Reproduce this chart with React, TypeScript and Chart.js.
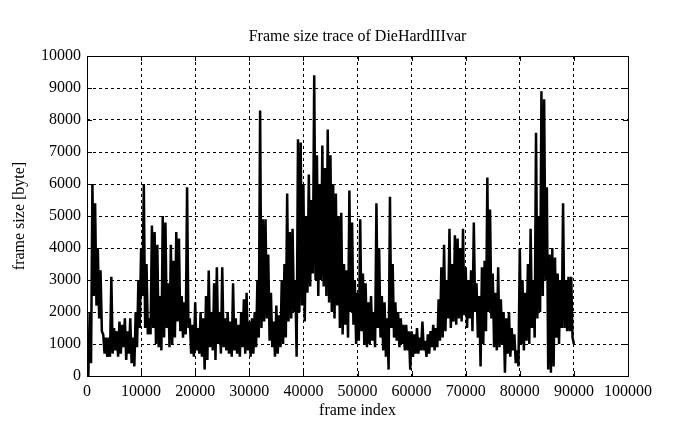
import React, { useEffect, useRef } from "react";
import { Chart, registerables } from "chart.js";

Chart.register(...registerables);

// Frame sizes in bytes, one reading every FRAME_STEP frames.
const FRAME_STEP = 250;

const seg00to10k = [
  1300, 0, 2000, 400, 6000, 2500, 5400, 2200, 4000, 1800, 3300, 1400,
  1300, 700, 1200, 600, 1200, 600, 3100, 700, 1500, 800, 1400, 600,
  1700, 700, 1600, 900, 1800, 500, 1400, 700, 1800, 400, 1200, 300,
  2000, 900, 3000, 1500,
];
const seg10to20k = [
  4000, 2500, 6000, 1500, 3500, 1300, 1800, 1300, 4700, 1500, 4500, 1000,
  4100, 900, 2500, 800, 5000, 1200, 4800, 1500, 2900, 900, 4100, 1000,
  3600, 1200, 4500, 1700, 4300, 1400, 2500, 1200, 2300, 1300, 5900, 1500,
  1800, 700, 1600, 600,
];
const seg20to30k = [
  2300, 800, 1500, 700, 2000, 600, 1800, 200, 2500, 500, 3300, 900,
  2000, 800, 2900, 500, 3400, 1000, 2000, 700, 3400, 900, 1800, 800,
  2000, 700, 1700, 600, 2900, 800, 1800, 700, 1600, 600, 2000, 900,
  2400, 700, 2600, 800,
];
const seg30to40k = [
  1700, 600, 1800, 700, 2000, 900, 3000, 1200, 8300, 1500, 4900, 1700,
  4900, 1800, 3800, 1100, 2600, 900, 1700, 600, 2200, 700, 1900, 900,
  3000, 1000, 3500, 1200, 5700, 1700, 4500, 1800, 4600, 2000, 3000, 600,
  7400, 2000, 7300, 2200,
];
const seg40to50k = [
  6000, 1700, 5000, 2600, 6300, 2800, 5500, 3200, 9400, 3000, 6900, 2500,
  6000, 3000, 7200, 2800, 6500, 2500, 7700, 2300, 6900, 2000, 6000, 1800,
  5700, 2200, 5000, 1500, 5100, 1300, 3500, 1600, 3300, 1200, 5800, 2000,
  4800, 1600, 3000, 1000,
];
const seg50to60k = [
  2600, 1100, 4900, 1400, 3200, 1000, 2900, 900, 2300, 1000, 2500, 1100,
  2000, 900, 5400, 1500, 4000, 1200, 2500, 800, 2300, 600, 1800, 200,
  5600, 1500, 3500, 1200, 2300, 1100, 2000, 900, 1800, 1000, 1600, 800,
  1600, 800, 1400, 200,
];
const seg60to70k = [
  1400, 600, 1300, 700, 1500, 700, 1200, 800, 1700, 800, 1100, 600,
  1300, 700, 1400, 900, 1600, 800, 1500, 900, 2400, 1100, 3400, 1200,
  4100, 1400, 3000, 1800, 4600, 1500, 3500, 1700, 4400, 1600, 4300, 1800,
  4000, 1700, 4600, 1900,
];
const seg70to80k = [
  3400, 1500, 3000, 1800, 3300, 1400, 4800, 2000, 2900, 1200, 2500, 300,
  3400, 1000, 3600, 1400, 6200, 2000, 5200, 1800, 3200, 900, 2600, 800,
  3400, 900, 2400, 1000, 2000, 100, 1800, 700, 2000, 600, 1500, 800,
  1300, 400, 800, 300,
];
const seg80to90k = [
  4000, 1000, 3000, 800, 2600, 1100, 3500, 1000, 4600, 1500, 3000, 1200,
  7600, 1800, 5000, 2000, 8900, 2500, 8650, 3000, 5900, 200, 3800, 100,
  4000, 300, 3700, 1200, 3200, 1000, 3000, 1500, 5400, 1500, 3000, 1400,
  3100, 1400, 3100, 1200, 1000,
];

const frameSizes = [
  ...seg00to10k, ...seg10to20k, ...seg20to30k, ...seg30to40k, ...seg40to50k,
  ...seg50to60k, ...seg60to70k, ...seg70to80k, ...seg80to90k,
];

const X_MIN = 0;
const X_MAX = 100000;
const X_STEP = 10000;
const Y_MIN = 0;
const Y_MAX = 10000;
const Y_STEP = 1000;

const TITLE = "Frame size trace of DieHardIIIvar";
const X_LABEL = "frame index";
const Y_LABEL = "frame size [byte]";

const FONT = "'Liberation Serif', 'Times New Roman', serif";
const FS = 16;

const framePlugin = {
  id: "gnuplotFrame",
  afterDraw(chart: any) {
    const { ctx, chartArea: a, scales } = chart;
    ctx.save();
    ctx.setLineDash([]);
    ctx.strokeStyle = "#000";
    ctx.lineWidth = 1;
    const L = 5;
    ctx.beginPath();
    scales.x.ticks.forEach((t: any) => {
      const px = Math.round(scales.x.getPixelForValue(t.value)) + 0.5;
      ctx.moveTo(px, a.bottom);
      ctx.lineTo(px, a.bottom - L);
      ctx.moveTo(px, a.top);
      ctx.lineTo(px, a.top + L);
    });
    scales.y.ticks.forEach((t: any) => {
      const py = Math.round(scales.y.getPixelForValue(t.value)) + 0.5;
      ctx.moveTo(a.left, py);
      ctx.lineTo(a.left + L, py);
      ctx.moveTo(a.right, py);
      ctx.lineTo(a.right - L, py);
    });
    ctx.stroke();
    ctx.strokeRect(
      Math.round(a.left) + 0.5,
      Math.round(a.top) + 0.5,
      Math.round(a.right - a.left),
      Math.round(a.bottom - a.top)
    );
    ctx.restore();
  },
};

export default function App() {
  const canvasRef = useRef<HTMLCanvasElement | null>(null);

  useEffect(() => {
    const canvas = canvasRef.current;
    if (!canvas) return;
    const points = frameSizes.map((v, i) => ({ x: i * FRAME_STEP, y: v }));
    const chart = new Chart(canvas, {
      type: "line",
      data: {
        datasets: [
          {
            data: points,
            borderColor: "#000",
            borderWidth: 2.5,
            borderJoinStyle: "bevel",
            pointRadius: 0,
            tension: 0,
            fill: false,
          },
        ],
      },
      options: {
        animation: false,
        responsive: false,
        devicePixelRatio: 1,
        layout: { padding: { left: 0, right: 71, top: 0, bottom: 0 } },
        plugins: {
          legend: { display: false },
          tooltip: { enabled: false },
          title: {
            display: true,
            fullSize: false,
            text: TITLE,
            color: "#000",
            font: { family: FONT, size: FS, weight: "normal", lineHeight: 1.2 },
            padding: { top: 27, bottom: 9.8 },
          },
        },
        scales: {
          x: {
            type: "linear",
            min: X_MIN,
            max: X_MAX,
            afterFit: (s: any) => {
              s.height = 53;
            },
            ticks: {
              stepSize: X_STEP,
              color: "#000",
              font: { family: FONT, size: FS },
              padding: 6,
              maxRotation: 0,
              autoSkip: false,
              callback: (v: any) => String(v),
            },
            grid: {
              color: "#000",
              lineWidth: 1,
              drawTicks: false,
            },
            border: { display: false, dash: [3, 3] },
            title: {
              display: true,
              text: X_LABEL,
              color: "#000",
              font: { family: FONT, size: FS, lineHeight: 1.2 },
              padding: { top: 0, bottom: 9 },
            },
          },
          y: {
            type: "linear",
            min: Y_MIN,
            max: Y_MAX,
            afterFit: (s: any) => {
              s.width = 87;
            },
            ticks: {
              stepSize: Y_STEP,
              color: "#000",
              font: { family: FONT, size: FS },
              padding: 6,
              autoSkip: false,
              callback: (v: any) => String(v),
            },
            grid: {
              color: "#000",
              lineWidth: 1,
              drawTicks: false,
            },
            border: { display: false, dash: [3, 3] },
            title: {
              display: true,
              text: Y_LABEL,
              color: "#000",
              font: { family: FONT, size: FS, lineHeight: 1.2 },
              padding: { top: 10, bottom: 0 },
            },
          },
        },
      },
      plugins: [framePlugin],
    });
    return () => chart.destroy();
  }, []);

  return (
    <div style={{ position: "fixed", left: 0, top: 0, width: 699, height: 429, background: "#fff" }}>
      <canvas ref={canvasRef} width={699} height={429} style={{ width: 699, height: 429, display: "block" }} />
    </div>
  );
}
